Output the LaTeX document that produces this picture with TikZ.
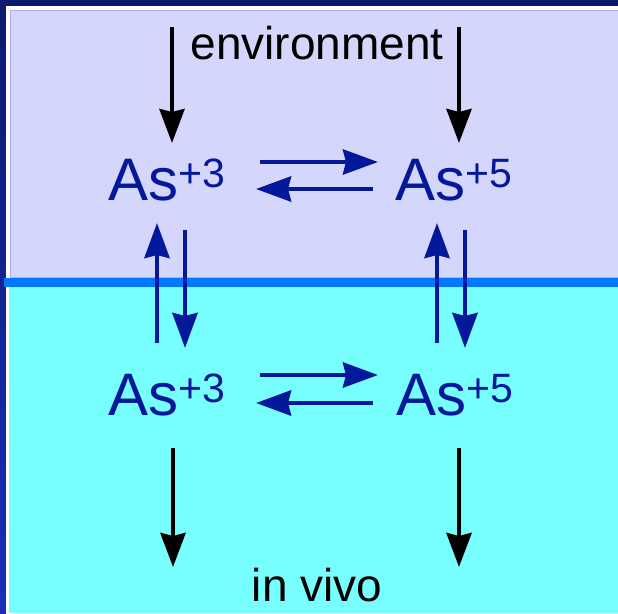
\documentclass[tikz,border=0pt]{standalone}
\usepackage{fontspec}
\setmainfont{Liberation Sans}
\usetikzlibrary{arrows.meta}
\definecolor{navy}{RGB}{12,26,110}
\definecolor{navylow}{RGB}{26,46,184}
\definecolor{lav}{RGB}{213,214,252}
\definecolor{lavedge}{RGB}{168,174,240}
\definecolor{band}{HTML}{0077FF}
\definecolor{cyanbg}{RGB}{119,255,255}
\definecolor{asblue}{RGB}{4,24,155}
\tikzset{
  bkarrow/.style={draw=black, line width=4.3pt, -{Stealth[length=34pt,width=25pt,inset=3pt]}},
  blarrow/.style={draw=asblue, line width=4.5pt, -{Stealth[length=35pt,width=25pt,inset=3pt]}},
  astext/.style={anchor=base west, inner sep=0pt, text=asblue, font=\fontsize{60}{60}\selectfont},
  lbl/.style={anchor=base, inner sep=0pt, text=black, font=\fontsize{46}{46}\selectfont}
}
\newcommand{\charge}[1]{\raisebox{13pt}{\fontsize{41}{41}\selectfont #1}}
\begin{document}
\begin{tikzpicture}[x=1pt,y=-1pt]
\useasboundingbox (0,0) rectangle (618,613);
% background
\fill[navy] (0,0) rectangle (618,613);
\shade[top color=navy, bottom color=navylow] (0,0) rectangle (6,613);
\fill[white] (6,6) rectangle (618,613);
\fill[lavedge] (10,10) rectangle (618,280);
\fill[lav] (11,11) rectangle (618,277);
\fill[cyanbg] (9,287) rectangle (618,613);
\fill[band] (4,278) rectangle (618,287);
% texts
\node[lbl] (env) at (317,59) {environment};
\node[lbl] (vivo) at (317,601) {in vivo};
\node[astext] (a3t) at (108,200) {As\charge{+3}};
\node[astext] (a5t) at (395,200) {As\charge{+5}};
\node[astext] (a3b) at (108,415) {As\charge{+3}};
\node[astext] (a5b) at (396,415) {As\charge{+5}};
% connector end points
\coordinate (e1) at (172,27);   \coordinate (e1t) at (172,143);
\coordinate (e2) at (459,27);   \coordinate (e2t) at (459,143);
\coordinate (v1) at (173,448);  \coordinate (v1t) at (173,567);
\coordinate (v2) at (459,448);  \coordinate (v2t) at (459,567);
\coordinate (ht1) at (260,162); \coordinate (ht1t) at (378,162);
\coordinate (ht2) at (373,189); \coordinate (ht2t) at (256,189);
\coordinate (hb1) at (260,375); \coordinate (hb1t) at (378,375);
\coordinate (hb2) at (373,403); \coordinate (hb2t) at (256,403);
\coordinate (vl1) at (157,343); \coordinate (vl1t) at (157,223);
\coordinate (vl2) at (185,230); \coordinate (vl2t) at (185,348);
\coordinate (vr1) at (437,343); \coordinate (vr1t) at (437,223);
\coordinate (vr2) at (465,230); \coordinate (vr2t) at (465,348);
% black arrows
\draw[bkarrow] (e1) -- (e1t);
\draw[bkarrow] (e2) -- (e2t);
\draw[bkarrow] (v1) -- (v1t);
\draw[bkarrow] (v2) -- (v2t);
% blue arrows
\draw[blarrow] (ht1) -- (ht1t);
\draw[blarrow] (ht2) -- (ht2t);
\draw[blarrow] (hb1) -- (hb1t);
\draw[blarrow] (hb2) -- (hb2t);
\draw[blarrow] (vl1) -- (vl1t);
\draw[blarrow] (vl2) -- (vl2t);
\draw[blarrow] (vr1) -- (vr1t);
\draw[blarrow] (vr2) -- (vr2t);
\end{tikzpicture}
\end{document}
